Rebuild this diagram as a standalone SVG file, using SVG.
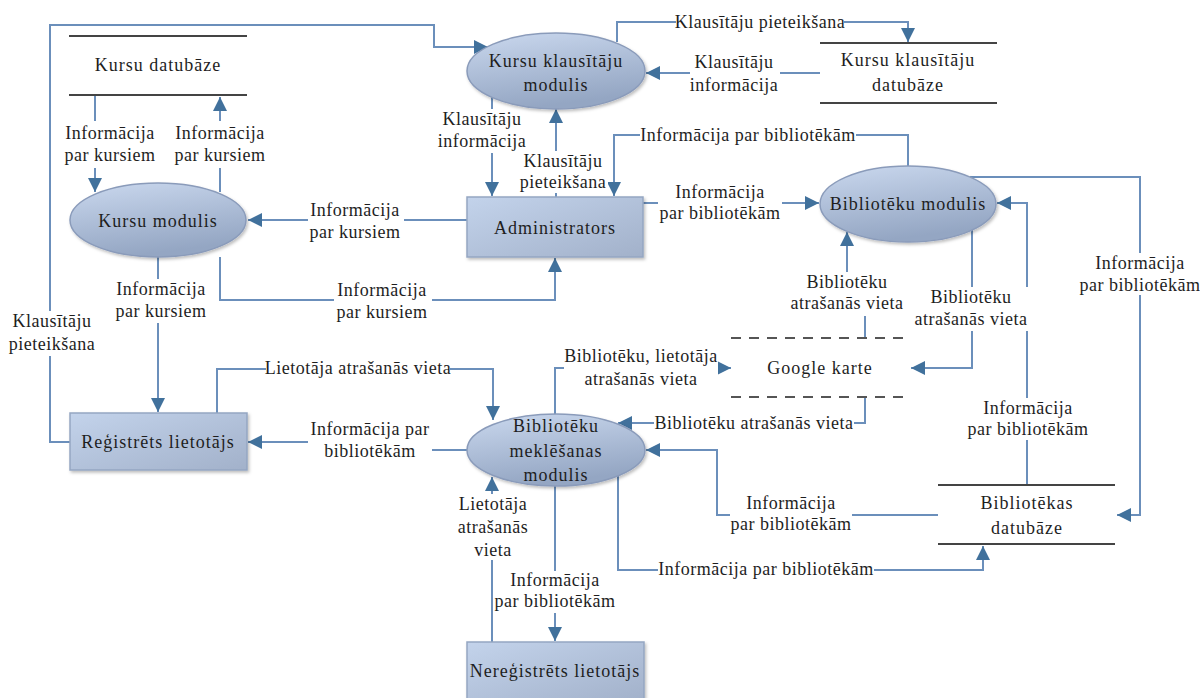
<svg xmlns="http://www.w3.org/2000/svg" width="1200" height="698" viewBox="0 0 1200 698">
<style>
.node text,.lbl text{font-family:"Liberation Serif","Times New Roman",serif;fill:#1e1e1e;text-anchor:middle}
.node text{font-size:18px;letter-spacing:1px}
.lbl text{font-size:18px;letter-spacing:0.5px}
.lbl rect{fill:#fff}
.ell{fill:url(#gE);stroke:#8a9bba;stroke-width:1.5;filter:url(#sh)}
.box{fill:url(#gR);stroke:#95a6c2;stroke-width:1.5;filter:url(#sh)}
.store{stroke:#444;stroke-width:2}
.dash{stroke:#555;stroke-width:2;stroke-dasharray:10 8}
.c{fill:none;stroke:#6b8fbb;stroke-width:2;marker-end:url(#ah)}
.cn{fill:none;stroke:#6b8fbb;stroke-width:2}
</style>
<defs>
<linearGradient id="gE" x1="0" y1="0" x2="0.3" y2="1"><stop offset="0" stop-color="#cad8ee"/><stop offset="1" stop-color="#94a6c3"/></linearGradient>
<linearGradient id="gR" x1="0" y1="0" x2="1" y2="1"><stop offset="0" stop-color="#c3d3eb"/><stop offset="1" stop-color="#a2b1ca"/></linearGradient>
<filter id="sh" x="-10%" y="-10%" width="130%" height="140%"><feDropShadow dx="1.5" dy="2" stdDeviation="1.5" flood-color="#000" flood-opacity="0.25"/></filter>
<marker id="ah" viewBox="0 0 14 14" refX="14" refY="7" markerWidth="14" markerHeight="14" markerUnits="userSpaceOnUse" orient="auto"><path d="M0,0 L14,7 L0,14 z" fill="#41719c"/></marker>
</defs>
<rect width="1200" height="698" fill="#fff"/>

<g id="connectors">
<path class="c" d="M95,96 V192"/>
<path class="c" d="M220,192 V97"/>
<path class="c" d="M467,220 H248"/>
<path class="c" d="M220,257 V300 H555 V258"/>
<path class="c" d="M158,257 V412"/>
<path class="c" d="M70,442 H50 V25 H434 V47 H488"/>
<path class="c" d="M492,97 V196"/>
<path class="c" d="M556,197 V109"/>
<path class="c" d="M617,42 V22 H908 V42"/>
<path class="c" d="M820,73 H646"/>
<path class="c" d="M908,166 V135 H614 V196"/>
<path class="c" d="M643,203 H819"/>
<path class="c" d="M217,413 V369 H493 V420"/>
<path class="c" d="M467,450 H370 V442 H248"/>
<path class="c" d="M555,414 V368 H731"/>
<path class="c" d="M865,398 V423 H618"/>
<path class="c" d="M865,337 V300 H847 V232"/>
<path class="c" d="M972,230 V368 H911"/>
<path class="c" d="M1027,485 V203 H997"/>
<path class="c" d="M970,177 H1140 V515 H1117"/>
<path class="c" d="M938,515 H717 V450 H646"/>
<path class="c" d="M618,476 V570 H983 V546"/>
<path class="c" d="M555,486 V641"/>
<path class="c" d="M492,642 V477"/>
</g>

<g id="labels">
<g class="lbl"><rect x="64" y="121" width="92" height="47"/><text x="110" y="139">Informācija</text><text x="110" y="161">par kursiem</text></g>
<g class="lbl"><rect x="176" y="121" width="88" height="47"/><text x="220" y="139">Informācija</text><text x="220" y="161">par kursiem</text></g>
<g class="lbl"><rect x="308" y="200" width="96" height="44"/><text x="355" y="216">Informācija</text><text x="355" y="238">par kursiem</text></g>
<g class="lbl"><rect x="334" y="280" width="98" height="44"/><text x="382" y="296">Informācija</text><text x="382" y="318">par kursiem</text></g>
<g class="lbl"><rect x="116" y="279" width="92" height="44"/><text x="161" y="295">Informācija</text><text x="161" y="317">par kursiem</text></g>
<g class="lbl"><rect x="8" y="311" width="88" height="45"/><text x="52" y="327">Klausītāju</text><text x="52" y="350">pieteikšana</text></g>
<g class="lbl"><rect x="436" y="109" width="94" height="44"/><text x="482" y="125">Klausītāju</text><text x="482" y="147">informācija</text></g>
<g class="lbl"><rect x="520" y="151" width="88" height="42"/><text x="563" y="167">Klausītāju</text><text x="563" y="188">pieteikšana</text></g>
<g class="lbl"><rect x="676" y="13" width="168" height="20"/><text x="760" y="28">Klausītāju pieteikšana</text></g>
<g class="lbl"><rect x="690" y="52" width="90" height="44"/><text x="734" y="68">Klausītāju</text><text x="734" y="91">informācija</text></g>
<g class="lbl"><rect x="640" y="127" width="216" height="20"/><text x="748" y="141">Informācija par bibliotēkām</text></g>
<g class="lbl"><rect x="658" y="183" width="124" height="42"/><text x="720" y="198">Informācija</text><text x="720" y="219">par bibliotēkām</text></g>
<g class="lbl"><rect x="266" y="360" width="184" height="20"/><text x="358" y="374">Lietotāja atrašanās vieta</text></g>
<g class="lbl"><rect x="308" y="420" width="124" height="42"/><text x="370" y="435">Informācija par</text><text x="370" y="457">bibliotēkām</text></g>
<g class="lbl"><rect x="564" y="347" width="154" height="44"/><text x="641" y="362">Bibliotēku, lietotāja</text><text x="641" y="385">atrašanās vieta</text></g>
<g class="lbl"><rect x="654" y="414" width="200" height="20"/><text x="754" y="429">Bibliotēku atrašanās vieta</text></g>
<g class="lbl"><rect x="790" y="272" width="114" height="44"/><text x="847" y="288">Bibliotēku</text><text x="847" y="309">atrašanās vieta</text></g>
<g class="lbl"><rect x="914" y="287" width="114" height="44"/><text x="971" y="303">Bibliotēku</text><text x="971" y="325">atrašanās vieta</text></g>
<g class="lbl"><rect x="968" y="398" width="122" height="42"/><text x="1028" y="414">Informācija</text><text x="1028" y="435">par bibliotēkām</text></g>
<g class="lbl"><rect x="1080" y="253" width="120" height="42"/><text x="1140" y="269">Informācija</text><text x="1140" y="291">par bibliotēkām</text></g>
<g class="lbl"><rect x="730" y="494" width="122" height="42"/><text x="791" y="509">Informācija</text><text x="791" y="530">par bibliotēkām</text></g>
<g class="lbl"><rect x="658" y="561" width="216" height="20"/><text x="766" y="575">Informācija par bibliotēkām</text></g>
<g class="lbl"><rect x="495" y="571" width="122" height="42"/><text x="555" y="586">Informācija</text><text x="555" y="607">par bibliotēkām</text></g>
<g class="lbl"><rect x="456" y="494" width="74" height="66"/><text x="493" y="510">Lietotāja</text><text x="493" y="533">atrašanās</text><text x="493" y="556">vieta</text></g>
</g>

<g id="kursu-datubaze" class="node"><line class="store" x1="69" y1="36" x2="247" y2="36"/><line class="store" x1="69" y1="95" x2="247" y2="95"/><text x="158" y="71">Kursu datubāze</text></g>
<g id="kursu-modulis" class="node"><ellipse class="ell" cx="158" cy="220" rx="88" ry="37"/><text x="158" y="227">Kursu modulis</text></g>
<g id="kursu-klausitaju-modulis" class="node"><ellipse class="ell" cx="556" cy="71" rx="89" ry="38"/><text x="556" y="67">Kursu klausītāju</text><text x="556" y="91">modulis</text></g>
<g id="kursu-klausitaju-datubaze" class="node"><line class="store" x1="820" y1="43" x2="997" y2="43"/><line class="store" x1="820" y1="103" x2="997" y2="103"/><text x="908" y="66">Kursu klausītāju</text><text x="908" y="91">datubāze</text></g>
<g id="administrators" class="node"><rect class="box" x="467" y="197" width="176" height="60"/><text x="555" y="234">Administrators</text></g>
<g id="biblioteku-modulis" class="node"><ellipse class="ell" cx="908" cy="204" rx="88" ry="38"/><text x="908" y="210">Bibliotēku modulis</text></g>
<g id="registrets" class="node"><rect class="box" x="70" y="413" width="177" height="57"/><text x="158" y="448">Reģistrēts lietotājs</text></g>
<g id="meklesanas-modulis" class="node"><ellipse class="ell" cx="556" cy="450" rx="89" ry="36"/><text x="556" y="432">Bibliotēku</text><text x="556" y="457">meklēšanas</text><text x="556" y="481">modulis</text></g>
<g id="google-karte" class="node"><line class="dash" x1="731" y1="338" x2="910" y2="338"/><line class="dash" x1="731" y1="397" x2="910" y2="397"/><text x="820" y="374">Google karte</text></g>
<g id="bibliotekas-datubaze" class="node"><line class="store" x1="938" y1="485" x2="1115" y2="485"/><line class="store" x1="938" y1="544" x2="1115" y2="544"/><text x="1027" y="509">Bibliotēkas</text><text x="1027" y="534">datubāze</text></g>
<g id="neregistrets" class="node"><rect class="box" x="467" y="642" width="177" height="60"/><text x="555" y="677">Nereģistrēts lietotājs</text></g>
</svg>
